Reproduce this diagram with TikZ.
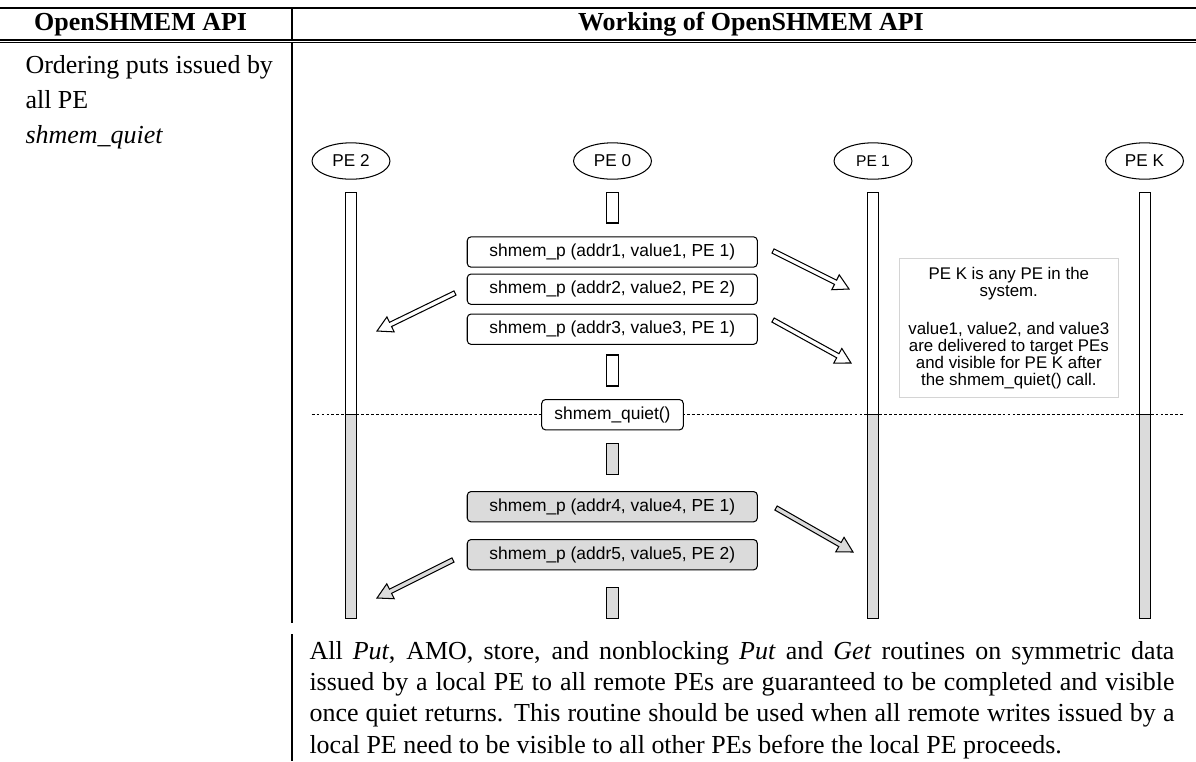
\documentclass[tikz,border=0pt]{standalone}
\usepackage{fontspec}
\setmainfont{Liberation Serif}
\newfontfamily\diagfont{Liberation Sans}
\usetikzlibrary{shapes.geometric,calc}
\definecolor{lanegray}{gray}{0.86}
\definecolor{notegray}{gray}{0.83}
\tikzset{
  pe/.style={ellipse, draw, minimum width=30pt, minimum height=14pt, inner sep=0pt,
    font=\diagfont\fontsize{6.6}{7}\selectfont},
  call/.style={rectangle, rounded corners=1.5pt, draw, fill=white, minimum width=111.7pt,
    minimum height=11.7pt, inner sep=0pt, font=\diagfont\fontsize{6.7}{7}\selectfont},
  note/.style={rectangle, draw=notegray, minimum width=84.3pt, minimum height=53.5pt,
    inner sep=0pt, align=center, font=\diagfont\fontsize{6.5}{6.5}\selectfont},
  msg/.style={line width=0.4pt, line join=miter}
}
\newcommand{\msgarrow}[3]{%
  \coordinate (#1n) at ($(#2)!5.8pt!(#1)$) ;
  \draw[msg, fill=#3] ($(#1)!0.9pt!90:(#2)$) -- ($(#1n)!0.9pt!90:(#2)$)
    -- ($(#1n)!3.2pt!90:(#2)$) -- (#2) -- ($(#1n)!3.2pt!-90:(#2)$)
    -- ($(#1n)!0.9pt!-90:(#2)$) -- ($(#1)!0.9pt!-90:(#2)$) -- cycle ;}

\begin{document}
\begin{tikzpicture}[x=0.385pt, y=-0.385pt]
\useasboundingbox (0,0) rectangle (1196,761) ;
% table rules
\draw[line width=0.4pt] (0,8) -- (1196,8) ;
\draw[line width=0.4pt] (0,40) -- (1196,40) ;
\draw[line width=0.4pt] (0,42.3) -- (1196,42.3) ;
\draw[line width=0.4pt] (292,8) -- (292,40) ;
\draw[line width=0.4pt] (292,42.3) -- (292,623) ;
\draw[line width=0.4pt] (292,634) -- (292,761) ;
\node[anchor=base west, font=\bfseries] (hapi) at (25,30) {OpenSHMEM API} ;
\node[anchor=base, font=\bfseries] (hwork) at (751,30) {Working of OpenSHMEM API} ;
\node[anchor=base west, inner sep=0pt] (row1) at (25,73) {Ordering puts issued by} ;
\node[anchor=base west, inner sep=0pt] (row2) at (25,108) {all PE} ;
\node[anchor=base west, inner sep=0pt] (row3) at (25,143) {\textit{shmem\_quiet}} ;
% processes
\node[pe] (pe2) at (351,161) {PE 2} ;
\node[pe] (pe0) at (612.5,161) {PE 0} ;
\node[pe, font=\diagfont\fontsize{6}{7}\selectfont] (pe1) at (873,161) {PE 1} ;
\node[pe] (pek) at (1144.5,161) {PE K} ;
\draw[dash pattern=on 1.1pt off 0.8pt, line width=0.3pt] (311.7,414.3) -- (1183,414.3) ;
\foreach \c in {351,873,1144.5} {
  \draw[fill=white] ({\c-5.5},192.7) rectangle ({\c+5.5},414.3) ;
  \draw[fill=lanegray] ({\c-5.5},414.3) rectangle ({\c+5.5},618.3) ;
}
\draw[fill=white] (606.7,192.7) rectangle (618.3,223) ;
\draw[fill=white] (606.7,355) rectangle (618.3,386) ;
\draw[fill=lanegray] (606.7,443.3) rectangle (618.3,474.3) ;
\draw[fill=lanegray] (606.7,587.3) rectangle (618.3,618.3) ;
% calls
\node[call] (put1) at (612.3,252) {shmem\_p (addr1, value1, PE 1)} ;
\node[call] (put2) at (612.3,289.2) {shmem\_p (addr2, value2, PE 2)} ;
\node[call] (put3) at (612.3,329.2) {shmem\_p (addr3, value3, PE 1)} ;
\node[call, minimum width=54.5pt] (quiet) at (612.5,414.7) {shmem\_quiet()} ;
\node[call, fill=lanegray] (put4) at (612.3,506.7) {shmem\_p (addr4, value4, PE 1)} ;
\node[call, fill=lanegray] (put5) at (612.3,554.7) {shmem\_p (addr5, value5, PE 2)} ;
\node[note] (note) at (1008.8,328) {PE K is any PE in the\\system.\\[8.5pt]value1, value2, and value3\\are delivered to target PEs\\and visible for PE K after\\the shmem\_quiet() call.} ;
% messages
\coordinate (a1) at (773,251) ; \coordinate (b1) at (849,289) ;
\coordinate (a2) at (455,293) ; \coordinate (b2) at (377,331) ;
\coordinate (a3) at (773,320) ; \coordinate (b3) at (851,363) ;
\coordinate (a4) at (776,508) ; \coordinate (b4) at (853,552) ;
\coordinate (a5) at (453,560) ; \coordinate (b5) at (377,598) ;
\msgarrow{a1}{b1}{white}
\msgarrow{a2}{b2}{white}
\msgarrow{a3}{b3}{white}
\msgarrow{a4}{b4}{lanegray}
\msgarrow{a5}{b5}{lanegray}
\node[anchor=north west, text width=333pt, align=justify, inner sep=0pt] (desc) at (309,641) {All \textit{Put}, AMO, store, and nonblocking \textit{Put} and \textit{Get} routines on symmetric data\linebreak issued by a local PE to all remote PEs are guaranteed to be completed and visible\linebreak once quiet returns. This routine should be used when all remote writes issued by a\linebreak local PE need to be visible to all other PEs before the local PE proceeds.} ;
\end{tikzpicture}
\end{document}
